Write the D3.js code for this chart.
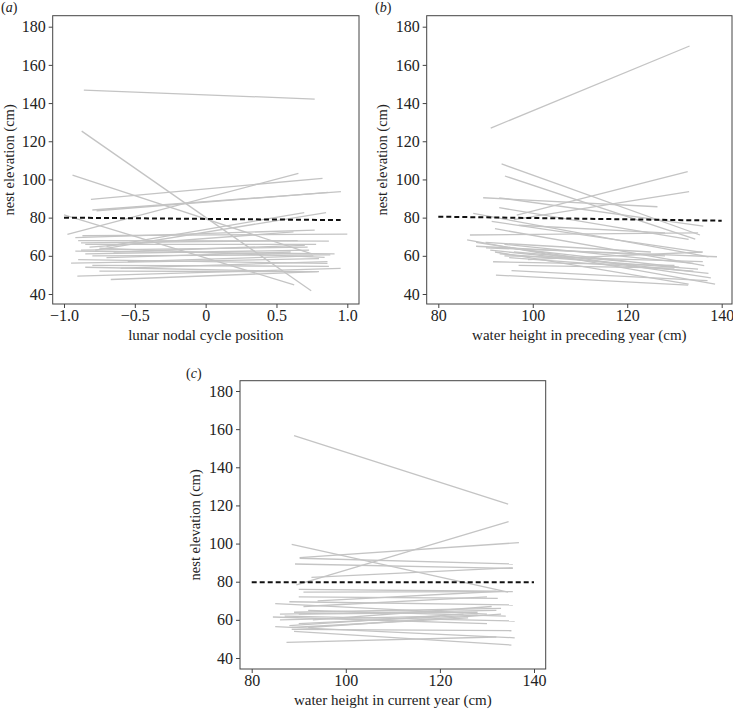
<!DOCTYPE html>
<html>
<head>
<meta charset="utf-8">
<script src="https://cdn.jsdelivr.net/npm/d3@7/dist/d3.min.js"></script>
<style>
  html, body { margin: 0; padding: 0; background: #fff; }
  svg text { font-family: "Liberation Serif", "DejaVu Serif", serif; fill: #222; }
</style>
</head>
<body>
<svg id="chart" width="733" height="709"></svg>
<script>
// ---------- data ----------
const yTicks = [40, 60, 80, 100, 120, 140, 160, 180];
const xTicksA = [-1.0, -0.5, 0, 0.5, 1.0];
const xTicksB = [80, 100, 120, 140];
const xTicksC = [80, 100, 120, 140];

// individual nest lines: [x1, y1, x2, y2]
const linesA = [
  [-0.86, 146.8, 0.77, 142.1],
  [-0.875, 125.3, 0.745, 41.7],
  [-0.94, 102.3, 0.75, 61.0],
  [-1.0, 81.5, 0.625, 44.8],
  [-0.976, 71.2, 0.655, 103.2],
  [-0.81, 89.6, 0.825, 100.6],
  [-0.80, 84.0, 0.955, 93.6],
  [-0.77, 83.6, 0.865, 93.2],
  [-0.92, 69.5, 0.77, 73.5],
  [-0.87, 70.5, 1.0, 71.4],
  [-0.70, 65.0, 0.696, 82.6],
  [-0.78, 63.0, 0.85, 82.6],
  [-0.90, 68.0, 0.87, 67.7],
  [-0.85, 66.0, 0.78, 66.0],
  [-0.88, 63.0, 0.72, 64.5],
  [-0.92, 62.5, 0.91, 61.0],
  [-0.75, 64.0, 0.84, 59.2],
  [-0.85, 61.0, 0.73, 63.0],
  [-0.80, 60.0, 0.88, 60.5],
  [-0.95, 56.2, 0.80, 58.5],
  [-0.90, 58.0, 0.86, 56.0],
  [-0.80, 55.0, 0.87, 54.5],
  [-0.906, 49.4, 0.953, 53.4],
  [-0.67, 47.6, 0.79, 51.7],
  [-0.75, 52.0, 0.80, 51.7],
  [-0.60, 53.5, 0.86, 57.0],
  [-0.85, 54.0, 0.50, 52.0],
  [-0.70, 59.0, 0.60, 62.0],
  [-0.88, 66.8, 0.65, 68.0],
  [-0.65, 62.0, 0.70, 65.5],
  [-0.82, 64.5, 0.62, 72.5],
  [-0.55, 57.0, 0.76, 60.0]
];
const linesB = [
  [91.1, 126.9, 133.2, 169.9],
  [93.4, 108.1, 135.4, 70.9],
  [94.1, 101.8, 134.4, 68.8],
  [96.6, 81.3, 132.8, 104.1],
  [96.0, 79.0, 133.1, 93.6],
  [89.5, 90.4, 126.4, 85.7],
  [92.9, 90.4, 136.1, 75.6],
  [92.9, 85.2, 133.0, 68.6],
  [87.4, 82.2, 137.2, 59.5],
  [91.3, 78.0, 135.8, 61.8],
  [92.0, 74.2, 136.3, 54.9],
  [86.7, 70.9, 135.0, 72.0],
  [86.1, 68.3, 138.6, 45.2],
  [88.0, 67.0, 137.7, 48.5],
  [90.1, 64.2, 139.0, 59.5],
  [91.0, 63.0, 137.2, 50.8],
  [92.0, 62.0, 133.0, 45.2],
  [93.0, 61.0, 135.0, 53.0],
  [94.0, 60.0, 136.0, 57.0],
  [95.0, 59.0, 134.0, 52.0],
  [91.6, 56.9, 130.0, 55.0],
  [92.2, 49.9, 132.9, 44.7],
  [95.5, 52.2, 137.0, 47.0],
  [97.0, 55.0, 130.0, 53.5],
  [99.0, 58.0, 136.0, 62.0],
  [88.0, 65.0, 128.0, 60.0],
  [96.0, 62.0, 120.0, 57.0],
  [94.0, 66.0, 134.0, 56.0],
  [90.0, 67.0, 125.0, 62.0],
  [97.0, 76.0, 128.0, 72.0],
  [93.5, 64.5, 131.0, 54.0]
];
const linesC = [
  [89.0, 156.6, 134.5, 120.7],
  [89.5, 78.3, 134.6, 111.5],
  [88.5, 99.6, 134.5, 74.5],
  [90.2, 92.6, 136.8, 100.5],
  [90.2, 92.3, 135.5, 89.3],
  [89.2, 89.3, 135.5, 87.0],
  [92.7, 82.3, 135.5, 87.3],
  [90.0, 76.0, 132.0, 75.0],
  [91.0, 74.5, 135.5, 74.8],
  [90.0, 72.0, 132.3, 71.3],
  [88.0, 69.5, 135.5, 67.8],
  [85.0, 68.5, 130.0, 63.0],
  [86.0, 63.0, 132.0, 65.0],
  [87.0, 62.0, 135.9, 59.4],
  [84.5, 61.5, 130.0, 58.0],
  [89.0, 64.0, 133.0, 66.0],
  [90.0, 63.0, 128.0, 64.0],
  [92.0, 65.0, 134.0, 62.0],
  [88.5, 55.0, 135.2, 54.3],
  [85.0, 56.5, 135.9, 50.6],
  [89.0, 54.0, 135.2, 46.8],
  [87.4, 48.2, 132.0, 51.0],
  [88.0, 57.0, 125.0, 63.0],
  [90.0, 58.0, 128.0, 62.5],
  [93.0, 60.0, 131.0, 67.0],
  [92.0, 56.0, 133.0, 63.0],
  [86.0, 60.0, 120.0, 62.0],
  [91.0, 67.0, 130.0, 72.0],
  [94.0, 70.0, 133.0, 75.0],
  [88.5, 56.0, 126.0, 61.0]
];
// population-level fitted lines (dashed)
const fitA = [-1.0, 80.0, 0.953, 78.7];
const fitB = [80, 80.5, 140, 78.4];
const fitC = [80, 79.7, 140, 79.7];

const panelLabels = ["(a)", "(b)", "(c)"];
const xTitles = ["lunar nodal cycle position", "water height in preceding year (cm)", "water height in current year (cm)"];
const yTitle = "nest elevation (cm)";

// ---------- layout ----------
const panels = [
  { lines: linesA, fit: fitA, xTicks: xTicksA, xDom: [-1, 1], xRange: [64, 347.3], yRange: [294, 26.7],
    box: [52.7, 15.7, 359, 304], label: panelLabels[0], labelPos: [1, 12], xTitle: xTitles[0], yTitleX: 14,
    fmt: d => d === 0 ? "0" : d3.format(".1f")(d).replace("-", "\u2212") },
  { lines: linesB, fit: fitB, xTicks: xTicksB, xDom: [80, 140], xRange: [438.3, 721.7], yRange: [294, 26.7],
    box: [426.7, 15.7, 732, 304], label: panelLabels[1], labelPos: [375, 12], xTitle: xTitles[1], yTitleX: 387,
    fmt: d => String(d) },
  { lines: linesC, fit: fitC, xTicks: xTicksC, xDom: [80, 140], xRange: [251.7, 534], yRange: [658, 391],
    box: [240, 380.7, 545.7, 669], label: panelLabels[2], labelPos: [186, 378], xTitle: xTitles[2], yTitleX: 200,
    fmt: d => String(d) }
];

const svg = d3.select("#chart");

panels.forEach(p => {
  const x = d3.scaleLinear().domain(p.xDom).range(p.xRange);
  const y = d3.scaleLinear().domain([40, 180]).range(p.yRange);
  const [bx0, by0, bx1, by1] = p.box;
  const g = svg.append("g");

  // individual lines
  g.append("g").selectAll("line").data(p.lines).join("line")
    .attr("x1", d => x(d[0])).attr("y1", d => y(d[1]))
    .attr("x2", d => x(d[2])).attr("y2", d => y(d[3]))
    .attr("stroke", "#c4c4c4").attr("stroke-width", 1.3);

  // fitted dashed line
  g.append("line")
    .attr("x1", x(p.fit[0])).attr("y1", y(p.fit[1]))
    .attr("x2", x(p.fit[2])).attr("y2", y(p.fit[3]))
    .attr("stroke", "#111").attr("stroke-width", 2).attr("stroke-dasharray", "5,3");

  // frame
  g.append("rect").attr("x", bx0).attr("y", by0).attr("width", bx1 - bx0).attr("height", by1 - by0)
    .attr("fill", "none").attr("stroke", "#444").attr("stroke-width", 1);

  // y axis
  const yAxis = d3.axisLeft(y).tickValues(yTicks).tickSize(4).tickPadding(3).tickSizeOuter(0);
  const ya = g.append("g").attr("transform", `translate(${bx0},0)`).call(yAxis);
  ya.select(".domain").remove();
  ya.selectAll(".tick line").attr("stroke", "#444");
  ya.selectAll(".tick text").style("font-family", "Liberation Serif, serif").style("font-size", "16px").attr("fill", "#222");

  // x axis
  const xAxis = d3.axisBottom(x).tickValues(p.xTicks).tickFormat(p.fmt).tickSize(4).tickPadding(2).tickSizeOuter(0);
  const xa = g.append("g").attr("transform", `translate(0,${by1})`).call(xAxis);
  xa.select(".domain").remove();
  xa.selectAll(".tick line").attr("stroke", "#444");
  xa.selectAll(".tick text").style("font-family", "Liberation Serif, serif").style("font-size", "16px").attr("fill", "#222");

  // titles
  g.append("text").attr("x", (bx0 + bx1) / 2).attr("y", by1 + 35.5).attr("text-anchor", "middle")
    .style("font-size", "15px").text(p.xTitle);
  g.append("text").attr("transform", `translate(${p.yTitleX},${(by0 + by1) / 2}) rotate(-90)`)
    .attr("text-anchor", "middle").style("font-size", "14.5px").text(yTitle);

  // panel label
  const lab = g.append("text").attr("x", p.labelPos[0]).attr("y", p.labelPos[1]).style("font-size", "14px");
  lab.append("tspan").text("(");
  lab.append("tspan").style("font-style", "italic").text(p.label.slice(1, -1));
  lab.append("tspan").text(")");
});
</script>
</body>
</html>
